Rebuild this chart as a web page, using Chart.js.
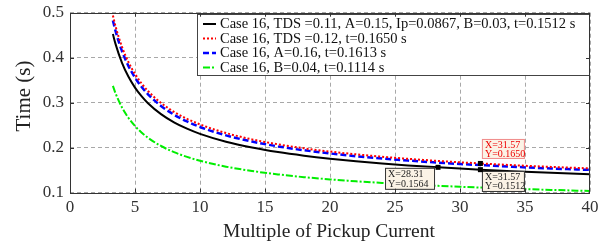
<!DOCTYPE html>
<html><head><meta charset="utf-8">
<script src="https://cdn.jsdelivr.net/npm/chart.js@4.4.0/dist/chart.umd.min.js"></script>
<style>html,body{margin:0;padding:0;background:#fff;}#wrap{width:610px;height:242px;}</style>
</head><body><div id="wrap"><canvas id="c" width="610" height="242"></canvas></div>
<script>
// ---- data ----
const multiples = [3.3,3.5,4,4.5,5,5.5,6,7,8,9,10,12,14,16,18,20,22,24,26,28.31,30,31.57,34,37,40];
const case16Base = [0.4525,0.4308,0.3886,0.3575,0.3336,0.3145,0.2988,0.2745,0.2563,0.2422,0.2307,0.2132,0.2003,0.1902,0.1822,0.1755,0.1698,0.1650,0.1607,0.1564,0.1536,0.1512,0.1479,0.1442,0.1412];
const case16TDS  = [0.4936,0.4700,0.4239,0.3900,0.3639,0.3430,0.3260,0.2994,0.2796,0.2642,0.2517,0.2326,0.2185,0.2075,0.1987,0.1914,0.1853,0.1800,0.1753,0.1706,0.1676,0.1650,0.1613,0.1573,0.1541];
const case16A    = [0.4826,0.4596,0.4145,0.3813,0.3558,0.3354,0.3187,0.2928,0.2734,0.2583,0.2461,0.2274,0.2136,0.2029,0.1943,0.1872,0.1811,0.1760,0.1714,0.1668,0.1638,0.1613,0.1577,0.1538,0.1507];
const case16B    = [0.3373,0.3211,0.2894,0.2661,0.2481,0.2338,0.2221,0.2038,0.1902,0.1796,0.1710,0.1579,0.1482,0.1407,0.1346,0.1296,0.1254,0.1217,0.1185,0.1153,0.1132,0.1114,0.1089,0.1062,0.1038];
const seriesLabels = [
  'Case 16, TDS =0.11, A=0.15, Ip=0.0867, B=0.03, t=0.1512 s',
  'Case 16, TDS =0.12, t=0.1650 s',
  'Case 16, A=0.16, t=0.1613 s',
  'Case 16, B=0.04, t=0.1114 s'
];
const xTickValues = [0,5,10,15,20,25,30,35,40];
const yTickValues = [0.1,0.2,0.3,0.4,0.5];
const tipSeries = [0,0,1];
const tipX = [28.31,31.57,31.57];
const tipY = [0.1564,0.1512,0.1650];
const xTitle = 'Multiple of Pickup Current';
const yTitle = 'Time (s)';

// ---- styles ----
const SERIF = "'Liberation Serif','Times New Roman',serif";
const lineStyles = [
  {color:'#000000', width:2, dash:[]},
  {color:'#ff0000', width:2, dash:[2,2]},
  {color:'#0000ff', width:2.5, dash:[6,3]},
  {color:'#00ee00', width:2, dash:[7,2,2,2]}
];
const tipBoxes = [ // offsets relative to the data point
  {dx:-53, dy:0.5, w:50, h:22, border:'#333', text:'#222'},
  {dx:1.5, dy:1.3, w:43, h:21, border:'#333', text:'#222'},
  {dx:1.5, dy:-24.5, w:43, h:20, border:'#f08a8a', text:'#ee0000'}
];

const seriesData = [case16Base, case16TDS, case16A, case16B];
const datasets = seriesData.map((vals,i)=>({
  label: seriesLabels[i],
  data: multiples.map((m,j)=>({x:m, y:vals[j]})),
  borderColor: lineStyles[i].color,
  borderWidth: lineStyles[i].width,
  borderDash: lineStyles[i].dash,
  pointRadius: 0,
  fill: false,
  cubicInterpolationMode: 'monotone'
}));

const decor = {
  id:'decor',
  afterDatasetsDraw(chart){
    const ctx = chart.ctx, xs = chart.scales.x, ys = chart.scales.y;
    ctx.save();
    tipX.forEach((tx,i)=>{
      const px = xs.getPixelForValue(tx), py = ys.getPixelForValue(tipY[i]);
      const b = tipBoxes[i];
      const bx = px + b.dx, by = py + b.dy;
      ctx.fillStyle = '#fbf3e6';
      ctx.fillRect(bx, by, b.w, b.h);
      ctx.strokeStyle = b.border; ctx.lineWidth = 1; ctx.setLineDash([]);
      ctx.strokeRect(bx+0.5, by+0.5, b.w-1, b.h-1);
      ctx.fillStyle = b.text;
      ctx.font = '10px ' + SERIF;
      ctx.textBaseline = 'middle'; ctx.textAlign = 'left';
      ctx.fillText('X=' + tx.toFixed(2), bx+3, by + b.h*0.3);
      ctx.fillText('Y=' + tipY[i].toFixed(4), bx+3, by + b.h*0.75);
      ctx.fillStyle = '#000';
      ctx.fillRect(px-2.5, py-2.5, 5, 5);
    });
    ctx.restore();
  },
  afterDraw(chart){
    const ctx = chart.ctx, a = chart.chartArea, xs = chart.scales.x, ys = chart.scales.y;
    ctx.save();
    // legend
    const lx = 197, ly = 14, lw = a.right - 197, lh = 62;
    ctx.fillStyle = '#fff';
    ctx.fillRect(lx, ly, lw, lh);
    ctx.strokeStyle = '#444'; ctx.lineWidth = 1; ctx.setLineDash([]);
    ctx.strokeRect(lx+0.5, ly+0.5, lw-1, lh-1);
    ctx.font = '14.5px ' + SERIF;
    ctx.textBaseline = 'middle'; ctx.textAlign = 'left';
    seriesLabels.forEach((t,i)=>{
      const y = 24 + i*14.5;
      ctx.strokeStyle = lineStyles[i].color;
      ctx.lineWidth = lineStyles[i].width;
      ctx.setLineDash(lineStyles[i].dash);
      ctx.beginPath(); ctx.moveTo(203, y); ctx.lineTo(216, y); ctx.stroke();
      ctx.fillStyle = '#111';
      ctx.fillText(t, 220, y+0.5);
    });
    // frame
    ctx.setLineDash([]);
    ctx.strokeStyle = '#333'; ctx.lineWidth = 1;
    ctx.strokeRect(Math.round(a.left)+0.5, Math.round(a.top)+0.5, Math.round(a.right-a.left)-1, Math.round(a.bottom-a.top));
    ctx.beginPath();
    xTickValues.slice(1,-1).forEach(v=>{
      const x = Math.round(xs.getPixelForValue(v))+0.5;
      ctx.moveTo(x, a.bottom); ctx.lineTo(x, a.bottom-4);
      ctx.moveTo(x, a.top); ctx.lineTo(x, a.top+4);
    });
    yTickValues.slice(1,-1).forEach(v=>{
      const y = Math.round(ys.getPixelForValue(v))+0.5;
      ctx.moveTo(a.left, y); ctx.lineTo(a.left+4, y);
      ctx.moveTo(a.right, y); ctx.lineTo(a.right-4, y);
    });
    ctx.stroke();
    // axis titles
    ctx.fillStyle = '#222';
    ctx.font = '19.5px ' + SERIF;
    ctx.textAlign = 'center'; ctx.textBaseline = 'alphabetic';
    ctx.fillText(xTitle, (a.left+a.right)/2 - 1, 236.5);
    ctx.save();
    ctx.translate(30, 96); ctx.rotate(-Math.PI/2);
    ctx.font = '21px ' + SERIF;
    ctx.fillText(yTitle, 0, 0);
    ctx.restore();
    ctx.restore();
  }
};

const gridOpts = {color:'#a8a8a8', lineWidth:1, drawTicks:false};
const borderOpts = {display:false, dash:[4,3]};

new Chart(document.getElementById('c'), {
  type:'line',
  data:{datasets},
  options:{
    responsive:false, animation:false, devicePixelRatio:1,
    layout:{padding:{left:0, right:20, top:12.7, bottom:0}},
    plugins:{legend:{display:false}, tooltip:{enabled:false}},
    scales:{
      x:{type:'linear', min:0, max:40,
        afterBuildTicks(s){ s.ticks = xTickValues.map(v=>({value:v})); },
        afterFit(s){ s.height = 49.3; s.paddingLeft = 0; s.paddingRight = 0; },
        grid:gridOpts,
        border:borderOpts,
        ticks:{padding:5, color:'#333', font:{family:SERIF, size:17}, maxRotation:0, autoSkip:false,
          callback:v=>String(v)}
      },
      y:{type:'linear', min:0.1, max:0.5,
        afterBuildTicks(s){ s.ticks = yTickValues.map(v=>({value:v})); },
        afterFit(s){ s.width = 70; s.paddingTop = 0; s.paddingBottom = 0; },
        grid:gridOpts,
        border:borderOpts,
        ticks:{padding:6, color:'#333', font:{family:SERIF, size:17}, autoSkip:false,
          callback:v=>Number(v).toFixed(1)}
      }
    }
  },
  plugins:[decor]
});
</script></body></html>
